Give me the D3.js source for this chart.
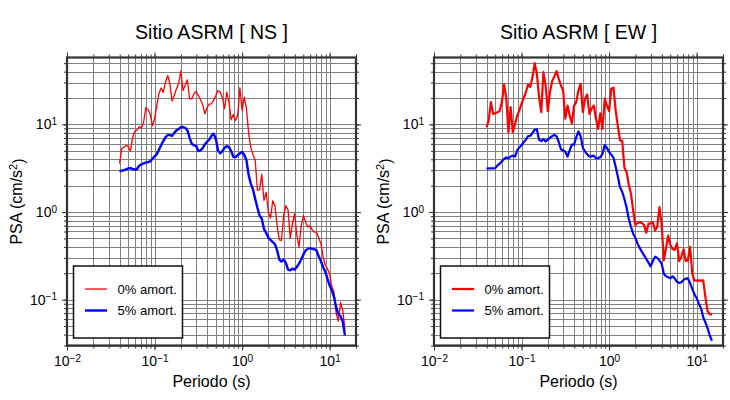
<!DOCTYPE html>
<html><head><meta charset="utf-8">
<script src="https://cdn.jsdelivr.net/npm/d3@7"></script>
<style>
body{margin:0;background:#fff}
svg{display:block}
text{font-family:"Liberation Sans",Arial,Helvetica,sans-serif;fill:#000}
</style>
</head><body><svg id="c" width="730" height="400"></svg>
<script>
// Periods (s)
const periods = [0.03981,0.04217,0.04467,0.04732,0.05012,0.05309,0.05623,0.05957,0.0631,0.06683,0.07079,0.07499,0.07943,0.08414,0.08913,0.09441,
0.1,0.1059,0.1122,0.1189,0.1259,0.1334,0.1413,0.1496,0.1585,0.1679,0.1778,0.1884,0.1995,0.2113,0.2239,0.2371,0.2512,0.2661,0.2818,0.2985,0.3162,0.335,0.3548,0.3758,0.3981,0.4217,0.4467,0.4732,0.5012,0.5309,0.5623,0.5957,0.631,0.6683,0.7079,0.7499,0.7943,0.8414,0.8913,0.9441,
1,1.059,1.122,1.189,1.259,1.334,1.413,1.496,1.585,1.679,1.778,1.884,1.995,2.113,2.239,2.371,2.512,2.661,2.818,2.985,3.162,3.35,3.548,3.758,3.981,4.217,4.467,4.732,5.012,5.309,5.623,5.957,6.31,6.683,7.079,7.499,7.943,8.414,8.913,9.441,
10,10.59,11.22,11.89,12.59,13.34,14.13,14.96];

// NS, 0% damping
const psaNS0 = [3.56,5.3,5.5,5.76,5.6,4.96,7.05,8.4,8.6,9.4,
9.1,10.6,15.5,14.8,13.2,9.6,11.6,16.1,22.4,26,
23.2,30.5,36.2,29.1,18.5,21.4,25.5,29.1,40.6,24.4,
28,32.3,19.6,19.6,22.4,23.8,21.4,19.1,16.8,13.2,
15.5,17,17.2,18.8,21.4,24.4,23.4,20.2,15.1,23.4,
18,11.3,13,11.1,12.7,26.2,14.4,20.5,15,7.83,
5.4,4.5,3.88,1.77,1.8,2.7,1.36,1.68,1.0,0.855,
1.34,1.19,0.70,0.48,0.475,0.92,1.18,1.06,0.5,0.736,
0.957,0.54,0.399,0.70,0.91,0.77,0.675,0.70,0.63,0.59,
0.59,0.51,0.435,0.31,0.247,0.226,0.195,0.141,0.122,0.069,
0.057,0.093,0.0755,0.0455];
// NS, 5% damping
const psaNS5 = [2.9,2.97,3.0,3.06,3.15,3.17,3.1,3.05,3.1,3.38,
3.5,3.59,3.67,3.71,3.78,4.06,4.32,4.55,5.14,5.8,
6.45,7.17,7.55,7.55,7.4,8.0,8.55,8.85,9.33,9.33,
9.15,8.55,7.05,6.01,5.76,5.7,4.96,5.05,5.37,5.9,
6.34,6.73,7.4,7.83,6.87,5.05,4.67,4.96,5.42,5.66,
5.51,4.96,4.28,4.24,4.47,4.67,4.84,4.47,3.88,2.62,
2.10,1.80,1.41,1.12,0.91,0.84,0.64,0.58,0.51,0.48,
0.455,0.43,0.365,0.287,0.272,0.287,0.263,0.22,0.216,0.226,
0.22,0.236,0.258,0.287,0.327,0.365,0.38,0.387,0.38,0.376,
0.365,0.312,0.276,0.236,0.208,0.174,0.145,0.128,0.107,0.081,
0.068,0.065,0.056,0.039];
// EW, 0% damping
const psaEW0 = [9.33,11.1,18.0,13.2,13.4,13.8,14.2,18,28.6,20.5,
8.17,15.8,8.17,10,12.6,14.4,17.2,20,23.4,28.6,
26.7,34.7,50,37.8,20.5,13.8,39.5,27.8,14.2,23.4,
31.2,35.3,40.6,33,27.8,24.4,11.6,16.4,12.6,10.3,
16.4,18.0,24.4,29.1,13.8,19.6,21.9,13.2,15.2,16.4,
11.6,8.9,13.4,8.9,19.6,16.4,14.2,25.5,26.3,14.4,
9.5,6.57,6.45,3.2,2.85,2.05,1.62,1.04,0.71,0.75,
0.77,0.75,0.71,0.58,0.736,0.736,0.77,0.618,0.675,1.14,
0.736,0.281,0.385,0.54,0.42,0.38,0.37,0.44,0.276,0.31,
0.376,0.276,0.281,0.4,0.198,0.166,0.165,0.166,0.165,0.166,
0.107,0.074,0.068,0.068];
// EW, 5% damping
const psaEW5 = [3.13,3.15,3.15,3.15,3.18,3.4,3.56,3.8,4.02,4.2,
4.1,4.3,4.4,4.3,5.05,5.46,5.8,6.25,6.7,7.37,
7.4,8.0,8.7,8.77,6.7,6.45,6.8,6.4,6.7,7.05,
7.37,7.6,7.3,6.3,5.2,5.05,4.88,4.3,5.05,5.9,
5.85,7.17,8.3,7.3,5.42,4.9,4.55,4.32,4.32,4.4,
4.1,4.13,4.24,4.62,5.8,5.42,4.84,4.5,4.17,3.26,
2.55,1.9,1.7,1.41,1.12,0.84,0.675,0.566,0.51,0.435,
0.39,0.35,0.32,0.29,0.265,0.24,0.276,0.31,0.3,0.281,
0.258,0.198,0.185,0.18,0.175,0.185,0.174,0.16,0.155,0.158,
0.168,0.174,0.175,0.155,0.133,0.115,0.104,0.09,0.08,0.063,
0.055,0.047,0.039,0.034];

const titles = ["Sitio ASRM [ NS ]", "Sitio ASRM [ EW ]"];
const legendLabels = ["0% amort.", "5% amort."];
const xMajorTicks = [0.01, 0.1, 1, 10];
const xMajorLabels = ["\u22122", "\u22121", "0", "1"];
const yMajorTicks = [0.1, 1, 10];
const yMajorLabels = ["\u22121", "0", "1"];
const xLabel = "Periodo (s)";
const xDomain = [0.01, 20];
const yDomain = [0.03, 58];

const svg = d3.select("#c");
const yTop = 57.5, yBottom = 345.5;

const panels = [
  {left: 67, right: 356, s0: psaNS0, s5: psaNS5, title: titles[0], w0: 1.3, w5: 2.4},
  {left: 434, right: 723, s0: psaEW0, s5: psaEW5, title: titles[1], w0: 2.2, w5: 2.2}
];

function minorList(lo, hi) {
  const out = [];
  for (let e = -3; e <= 2; e++) for (let m = 1; m <= 9; m++) {
    const v = +(m * Math.pow(10, e)).toPrecision(3);
    if (v >= lo * 0.9999 && v <= hi * 1.0001) out.push(v);
  }
  return out;
}
const xMinor = minorList(xDomain[0], xDomain[1]);
const yMinor = minorList(yDomain[0], yDomain[1]);

function supLabel(sel, labels, ticks) {
  sel.selectAll(".tick text").each(function(d) {
    const i = ticks.indexOf(d);
    const t = d3.select(this);
    t.text(null);
    t.append("tspan").text("10");
    t.append("tspan").attr("dy", "-0.45em").attr("font-size", "10px").text(labels[i]);
  });
}

panels.forEach(p => {
  const x = d3.scaleLog().domain(xDomain).range([p.left, p.right]);
  const y = d3.scaleLog().domain(yDomain).range([yBottom, yTop]);
  const W = p.right - p.left, H = yBottom - yTop;
  const g = svg.append("g");

  // grid
  const gx = g.append("g").attr("transform", `translate(0,${yBottom})`)
    .call(d3.axisBottom(x).tickValues(xMinor).tickSize(-H).tickFormat(""));
  const gy = g.append("g").attr("transform", `translate(${p.left},0)`)
    .call(d3.axisLeft(y).tickValues(yMinor).tickSize(-W).tickFormat(""));
  [gx, gy].forEach(a => {
    a.select(".domain").remove();
    a.selectAll("line").attr("stroke", "#808080").attr("stroke-width", 1).attr("shape-rendering", "crispEdges");
  });

  // lines
  const line = s => d3.line().x((d, i) => x(periods[i])).y(d => y(d))(s);
  g.append("path").attr("d", line(p.s0)).attr("fill", "none").attr("stroke", "#ff0000")
    .attr("stroke-width", p.w0).attr("stroke-linejoin", "round");
  g.append("path").attr("d", line(p.s5)).attr("fill", "none").attr("stroke", "#0000ff")
    .attr("stroke-width", p.w5).attr("stroke-linejoin", "round");

  // ticks on four sides
  const tickStyle = a => { a.select(".domain").remove(); a.selectAll("line").attr("stroke", "#333").attr("stroke-width", 1); };
  const axes = [
    [d3.axisBottom, x, xMinor, `translate(0,${yBottom})`],
    [d3.axisTop, x, xMinor, `translate(0,${yTop})`],
    [d3.axisLeft, y, yMinor, `translate(${p.left},0)`],
    [d3.axisRight, y, yMinor, `translate(${p.right},0)`]
  ];
  axes.forEach(([fn, sc, mv, tr]) => {
    g.append("g").attr("transform", tr).call(fn(sc).tickValues(mv).tickSize(3).tickFormat("")).call(tickStyle);
  });
  const bx = g.append("g").attr("transform", `translate(0,${yBottom})`)
    .call(d3.axisBottom(x).tickValues(xMajorTicks).tickSize(5).tickPadding(6));
  bx.call(tickStyle);
  bx.selectAll(".tick text").attr("font-size", "14px").attr("font-family", "Liberation Sans, Arial, sans-serif");
  supLabel(bx, xMajorLabels, xMajorTicks);
  g.append("g").attr("transform", `translate(0,${yTop})`)
    .call(d3.axisTop(x).tickValues(xMajorTicks).tickSize(5).tickFormat("")).call(tickStyle);
  const ly = g.append("g").attr("transform", `translate(${p.left},0)`)
    .call(d3.axisLeft(y).tickValues(yMajorTicks).tickSize(5).tickPadding(5));
  ly.call(tickStyle);
  ly.selectAll(".tick text").attr("font-size", "14px").attr("font-family", "Liberation Sans, Arial, sans-serif");
  supLabel(ly, yMajorLabels, yMajorTicks);
  g.append("g").attr("transform", `translate(${p.right},0)`)
    .call(d3.axisRight(y).tickValues(yMajorTicks).tickSize(5).tickFormat("")).call(tickStyle);

  // frame
  g.append("rect").attr("x", p.left).attr("y", yTop).attr("width", W).attr("height", H)
    .attr("fill", "none").attr("stroke", "#333").attr("stroke-width", 2.2);

  // legend
  const lg = g.append("g").attr("transform", `translate(${p.left + 6.5},266)`);
  lg.append("rect").attr("width", 109).attr("height", 72).attr("fill", "#fff")
    .attr("stroke", "#111").attr("stroke-width", 1.5);
  const items = [["#ff0000", p.w0], ["#0000ff", p.w5]];
  items.forEach(([c, w], i) => {
    const yy = 23 + i * 21.5;
    lg.append("line").attr("x1", 11.5).attr("x2", 33.5).attr("y1", yy).attr("y2", yy)
      .attr("stroke", c).attr("stroke-width", w);
    lg.append("text").attr("x", 44).attr("y", yy + 4.5).attr("font-size", "13px").text(legendLabels[i]);
  });

  // titles and axis labels
  const cx = (p.left + p.right) / 2;
  g.append("text").attr("x", cx).attr("y", 39).attr("text-anchor", "middle")
    .attr("font-size", "19.5px").text(p.title);
  g.append("text").attr("x", cx).attr("y", 387).attr("text-anchor", "middle")
    .attr("font-size", "16px").text(xLabel);
  const yl = g.append("text").attr("transform", `translate(${p.left - 45},${(yTop + yBottom) / 2}) rotate(-90)`)
    .attr("text-anchor", "middle").attr("font-size", "16px");
  yl.append("tspan").text("PSA (cm/s");
  yl.append("tspan").attr("dy", "-0.45em").attr("font-size", "11px").text("2");
  yl.append("tspan").attr("dy", "0.45em").text(")");
});
</script>
</body></html>
